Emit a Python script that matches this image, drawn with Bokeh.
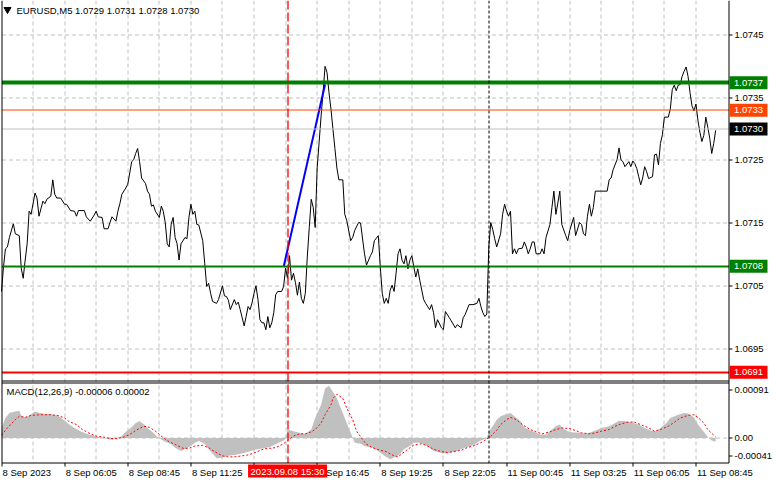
import math
from bokeh.plotting import figure
from bokeh.models import Range1d
from bokeh.embed import file_html
from bokeh.resources import INLINE
from bokeh.core.properties import value

# ---------------- data ----------------
bar_idx = [0, 1, 2, 3, 4, 6, 7, 9, 10, 11, 12, 13, 14, 15, 17, 18, 19, 21, 22, 23, 25, 26, 27, 28, 30,
           32, 33, 35, 37, 38, 39, 42, 43, 45, 47, 48, 49, 51, 52, 54, 55, 56, 58, 59, 60, 61, 63, 64,
           65, 66, 67, 68, 69, 70, 71, 73, 74, 75, 76, 77, 78, 80, 81, 82, 83, 84, 85, 86, 87, 88, 89,
           90, 91, 93, 94, 95, 96, 97, 98, 99, 100, 102, 103, 104, 105, 106, 107, 109, 110, 112, 113,
           114, 115, 116, 118, 119, 120, 121, 123, 124, 125, 126, 127, 128, 129, 130, 131, 132, 133,
           134, 135, 136, 137, 138, 139, 140, 142, 143, 144, 145, 146, 147, 148, 149, 150, 151, 152,
           153, 154, 155, 156, 157, 158, 159, 160, 161, 162, 163, 164, 165, 166, 167, 168, 169, 170,
           171, 173, 174, 175, 177, 178, 179, 181, 182, 184, 185, 187, 188, 189, 191, 192, 193, 194,
           195, 196, 197, 198, 199, 200, 201, 202, 203, 204, 205, 206, 207, 208, 209, 210, 211, 212,
           214, 215, 217, 218, 219, 220, 221, 223, 224, 225, 227, 228, 230, 231, 233, 234, 235, 237,
           239, 241, 242, 243, 244, 245, 246, 247, 248, 249, 250, 251, 253, 254, 255, 256, 257, 258,
           259, 260, 261, 262, 264, 265, 266, 267, 268, 269, 270, 271, 273, 274, 275, 276, 278, 279,
           280, 281, 282, 283, 284, 286, 287, 288, 290, 291, 293, 294, 295, 296, 297, 298, 299, 300,
           301, 304, 307, 308, 309, 310, 312, 313, 314, 315, 316, 318, 319, 320, 321, 322, 323, 324,
           325, 326, 327, 328, 330, 331, 332, 333, 334, 335, 336, 338, 339, 340, 341, 342, 343, 344,
           345, 346, 347, 348, 349, 350, 351, 352, 353, 354, 355, 356, 357, 358, 359, 360, 361, 362]
close = [1.07041, 1.07080, 1.07109, 1.07112, 1.07127, 1.07149, 1.07133, 1.07130, 1.07078, 1.07062,
         1.07091, 1.07117, 1.07169, 1.07164, 1.07198, 1.07190, 1.07161, 1.07185, 1.07181, 1.07188,
         1.07193, 1.07219, 1.07196, 1.07190, 1.07190, 1.07180, 1.07180, 1.07170, 1.07169, 1.07161,
         1.07170, 1.07170, 1.07160, 1.07153, 1.07163, 1.07169, 1.07160, 1.07159, 1.07141, 1.07141,
         1.07151, 1.07160, 1.07153, 1.07169, 1.07181, 1.07196, 1.07206, 1.07212, 1.07230, 1.07248,
         1.07251, 1.07261, 1.07269, 1.07248, 1.07222, 1.07213, 1.07201, 1.07196, 1.07177, 1.07179,
         1.07169, 1.07159, 1.07177, 1.07169, 1.07151, 1.07117, 1.07112, 1.07148, 1.07159, 1.07127,
         1.07117, 1.07091, 1.07117, 1.07127, 1.07125, 1.07159, 1.07180, 1.07164, 1.07169, 1.07148,
         1.07147, 1.07122, 1.07086, 1.07049, 1.07054, 1.07038, 1.07025, 1.07022, 1.07028, 1.07050,
         1.07034, 1.07033, 1.07027, 1.07012, 1.07028, 1.07020, 1.07024, 1.07012, 1.06986, 1.07001,
         1.07017, 1.07012, 1.07023, 1.07038, 1.07050, 1.07028, 1.06996, 1.06991, 1.06991, 1.06980,
         1.07001, 1.06983, 1.06991, 1.07007, 1.07036, 1.07041, 1.07041, 1.07049, 1.07078, 1.07062,
         1.07098, 1.07059, 1.07070, 1.07055, 1.07035, 1.07056, 1.07030, 1.07022, 1.07038, 1.07096,
         1.07143, 1.07188, 1.07175, 1.07143, 1.07238, 1.07279, 1.07321, 1.07358, 1.07400, 1.07390,
         1.07358, 1.07332, 1.07300, 1.07269, 1.07238, 1.07219, 1.07219, 1.07164, 1.07154, 1.07122,
         1.07127, 1.07138, 1.07151, 1.07150, 1.07101, 1.07083, 1.07098, 1.07104, 1.07122, 1.07130,
         1.07080, 1.07038, 1.07022, 1.07030, 1.07022, 1.07043, 1.07051, 1.07041, 1.07070, 1.07101,
         1.07109, 1.07091, 1.07085, 1.07098, 1.07077, 1.07091, 1.07098, 1.07080, 1.07064, 1.07077,
         1.07059, 1.07028, 1.07022, 1.07012, 1.07020, 1.07007, 1.06983, 1.06996, 1.06983, 1.06980,
         1.07009, 1.06999, 1.06994, 1.06983, 1.06988, 1.06983, 1.06999, 1.07004, 1.07020, 1.07020,
         1.07022, 1.07030, 1.07017, 1.07007, 1.07001, 1.07005, 1.07112, 1.07151, 1.07140, 1.07125,
         1.07112, 1.07133, 1.07164, 1.07180, 1.07169, 1.07161, 1.07169, 1.07101, 1.07109, 1.07101,
         1.07109, 1.07110, 1.07120, 1.07112, 1.07101, 1.07109, 1.07120, 1.07120, 1.07101, 1.07101,
         1.07109, 1.07101, 1.07127, 1.07148, 1.07175, 1.07201, 1.07164, 1.07182, 1.07201, 1.07148,
         1.07130, 1.07122, 1.07138, 1.07159, 1.07130, 1.07151, 1.07148, 1.07133, 1.07130, 1.07161,
         1.07180, 1.07161, 1.07175, 1.07201, 1.07201, 1.07201, 1.07219, 1.07222, 1.07235, 1.07251,
         1.07270, 1.07251, 1.07248, 1.07240, 1.07248, 1.07240, 1.07249, 1.07245, 1.07237, 1.07224,
         1.07211, 1.07222, 1.07240, 1.07232, 1.07221, 1.07224, 1.07259, 1.07260, 1.07243, 1.07277,
         1.07291, 1.07319, 1.07319, 1.07332, 1.07363, 1.07370, 1.07361, 1.07370, 1.07371, 1.07384,
         1.07392, 1.07399, 1.07384, 1.07358, 1.07337, 1.07329, 1.07340, 1.07314, 1.07295, 1.07280,
         1.07290, 1.07319, 1.07303, 1.07285, 1.07261, 1.07277, 1.07298]

hist_idx = [0, 2, 4, 7, 9, 10, 12, 14, 17, 19, 22, 25, 28, 30, 32, 34, 37, 40, 43, 47, 50, 53, 56, 58,
            61, 63, 66, 68, 70, 72, 74, 77, 79, 81, 83, 86, 88, 91, 93, 96, 98, 100, 103, 105, 108,
            109, 112, 115, 118, 122, 125, 129, 133, 136, 139, 143, 144, 145, 148, 151, 154, 157, 159,
            162, 164, 166, 168, 170, 172, 174, 176, 178, 179, 182, 184, 188, 191, 194, 197, 199, 202,
            204, 207, 209, 212, 214, 217, 219, 222, 224, 228, 231, 234, 238, 241, 243, 246, 247, 249,
            251, 253, 256, 258, 260, 263, 265, 268, 271, 273, 276, 278, 281, 283, 284, 287, 289, 293,
            296, 298, 301, 304, 308, 311, 313, 317, 320, 323, 326, 329, 332, 334, 337, 339, 343, 346,
            348, 351, 353, 356, 358, 360, 362]
hist_val = [0.000180, 0.000354, 0.000441, 0.000470, 0.000481, 0.000400, 0.000365, 0.000400, 0.000470,
            0.000447, 0.000423, 0.000423, 0.000400, 0.000365, 0.000307, 0.000249, 0.000180, 0.000122,
            0.000075, 0.000035, 0.000017, -0.000012, -0.000029, -0.000006, 0.000035, 0.000110,
            0.000191, 0.000267, 0.000296, 0.000249, 0.000180, 0.000093, 0.000017, -0.000023,
            -0.000064, -0.000110, -0.000168, -0.000226, -0.000197, -0.000139, -0.000081, -0.000052,
            -0.000099, -0.000197, -0.000313, -0.000354, -0.000342, -0.000313, -0.000296, -0.000273,
            -0.000240, -0.000200, -0.000180, -0.000157, -0.000110, -0.000041, -0.000006, 0.000151,
            0.000122, 0.000093, 0.000075, 0.000151, 0.000354, 0.000586, 0.000876, 0.000922, 0.000818,
            0.000702, 0.000528, 0.000354, 0.000180, 0.000012, -0.000081, -0.000099, -0.000139,
            -0.000168, -0.000226, -0.000313, -0.000371, -0.000342, -0.000284, -0.000197, -0.000139,
            -0.000081, -0.000081, -0.000110, -0.000168, -0.000226, -0.000255, -0.000273, -0.000255,
            -0.000226, -0.000180, -0.000139, -0.000081, -0.000041, -0.000006, 0.000122, 0.000209,
            0.000325, 0.000383, 0.000423, 0.000441, 0.000383, 0.000296, 0.000191, 0.000133, 0.000093,
            0.000064, 0.000064, 0.000122, 0.000209, 0.000238, 0.000191, 0.000122, 0.000104, 0.000093,
            0.000075, 0.000093, 0.000133, 0.000180, 0.000209, 0.000267, 0.000307, 0.000296, 0.000267,
            0.000238, 0.000180, 0.000133, 0.000122, 0.000180, 0.000267, 0.000354, 0.000412, 0.000441,
            0.000435, 0.000365, 0.000238, 0.000110, 0.000017, -0.000041, -0.000064]

sig_idx = [0, 3, 7, 9, 12, 15, 20, 25, 29, 32, 34, 38, 41, 45, 48, 52, 55, 58, 62, 65, 68, 72, 75, 78,
           82, 85, 88, 92, 95, 98, 102, 105, 108, 112, 115, 118, 122, 125, 129, 133, 136, 139, 143,
           145, 148, 151, 154, 157, 159, 162, 164, 167, 168, 170, 173, 175, 178, 180, 183, 185, 188,
           192, 195, 198, 201, 203, 206, 209, 213, 216, 219, 223, 226, 229, 233, 236, 239, 243, 245,
           248, 251, 253, 256, 258, 261, 264, 268, 271, 274, 278, 281, 284, 288, 291, 294, 298, 301,
           304, 308, 311, 314, 318, 321, 324, 328, 331, 334, 338, 341, 344, 348, 351, 353, 356, 358,
           361, 362]
sig_val = [0.000052, 0.000180, 0.000325, 0.000383, 0.000365, 0.000400, 0.000412, 0.000412, 0.000394,
           0.000354, 0.000296, 0.000238, 0.000151, 0.000075, 0.000035, 0.000017, -0.000006, -0.000012,
           0.000017, 0.000064, 0.000133, 0.000209, 0.000191, 0.000122, 0.000006, -0.000064, -0.000110,
           -0.000180, -0.000180, -0.000139, -0.000128, -0.000168, -0.000238, -0.000313, -0.000331,
           -0.000331, -0.000313, -0.000296, -0.000250, -0.000190, -0.000180, -0.000168, -0.000099,
           -0.000041, 0.000035, 0.000075, 0.000075, 0.000110, 0.000151, 0.000267, 0.000412, 0.000586,
           0.000702, 0.000771, 0.000702, 0.000528, 0.000325, 0.000122, -0.000023, -0.000110,
           -0.000168, -0.000215, -0.000238, -0.000296, -0.000331, -0.000273, -0.000197, -0.000122,
           -0.000099, -0.000139, -0.000197, -0.000238, -0.000255, -0.000238, -0.000215, -0.000168,
           -0.000139, -0.000081, -0.000041, 0.000035, 0.000140, 0.000238, 0.000325, 0.000365,
           0.000325, 0.000238, 0.000151, 0.000110, 0.000075, 0.000110, 0.000151, 0.000180, 0.000168,
           0.000133, 0.000093, 0.000075, 0.000093, 0.000122, 0.000151, 0.000209, 0.000249, 0.000284,
           0.000278, 0.000238, 0.000180, 0.000122, 0.000151, 0.000209, 0.000278, 0.000354, 0.000400,
           0.000412, 0.000365, 0.000267, 0.000151, 0.000052, 0.000020]

trend_idx = [143, 164]
trend_val = [1.07080, 1.07371]

level_vals = [1.07374, 1.07330, 1.07300, 1.07081, 1.06912]
level_text = ["1.0737", "1.0733", "1.0730", "1.0708", "1.0691"]
level_line_colors = ["#008000", "#FF4500", "#C0C0C0", "#008000", "#FF0000"]
level_box_colors = ["#008000", "#FF4500", "#000000", "#008000", "#FF0000"]
level_widths = [4, 1, 1, 2, 2]

price_ticks = [1.0695, 1.0705, 1.0715, 1.0725, 1.0735, 1.0745]
price_tick_labels = ["1.0695", "1.0705", "1.0715", "1.0725", "1.0735", "1.0745"]
macd_ticks = [0.00091, 0.0, -0.00041]
macd_tick_labels = ["0.00091", "0.00", "-0.00041"]

time_tick_idx = [0, 32, 64, 96, 128, 160, 192, 224, 256, 288, 320, 352]
time_tick_labels = ["8 Sep 2023", "8 Sep 06:05", "8 Sep 08:45", "8 Sep 11:25", "8 Sep 14:05",
                    "8 Sep 16:45", "8 Sep 19:25", "8 Sep 22:05", "11 Sep 00:45", "11 Sep 03:25",
                    "11 Sep 06:05", "11 Sep 08:45"]

vline_idx = 145
vline_label = "2023.09.08 15:30"
week_sep_idx = 247

title_text = "EURUSD,M5  1.0729 1.0731 1.0728 1.0730"
macd_title = "MACD(12,26,9) -0.00006 0.00002"

# ---------------- layout (pixels) ----------------
FONT = value("Liberation Sans")
FS = value("9.5px")
W, H = 772, 478
CX0, CHART_W = 1, 727            # chart area left edge / width in px
CX1 = CX0 + CHART_W
FRAME_H = 462                    # bottom of the MACD panel (px from top)
PRICE_PX, GAP = 380, 2
MACD_TOP = PRICE_PX + GAP
MACD_PX = FRAME_H - MACD_TOP
X_END = 368.5                    # bars visible in chart area
P_TOP, P_BOT = 1.07505, 1.06899
PPX = (P_TOP - P_BOT) / PRICE_PX
M_TOP, M_BOT = 0.00098, -0.00043
MPX = (M_TOP - M_BOT) / MACD_PX
BPX = X_END / CHART_W


def bx(px):
    return (px - CX0) * BPX


def py(px):
    return P_TOP - px * PPX


def my(px):
    return M_TOP - (px - MACD_TOP) * MPX


def snap_x(i, w=1):
    px = CX0 + i / BPX
    return bx(math.floor(px) + 0.5 if w % 2 else round(px))


def snap_y(v, w=1):
    px = (P_TOP - v) / PPX
    return py(math.floor(px) + 0.5 if w % 2 else round(px))


p = figure(width=W, height=H, output_backend="svg", toolbar_location=None,
           x_range=Range1d(bx(0), bx(W)), y_range=Range1d(py(H), py(0)),
           x_axis_location=None, y_axis_location=None,
           min_border_left=0, min_border_right=0, min_border_top=0, min_border_bottom=0,
           outline_line_color=None, background_fill_color="white", border_fill_color="white")
p.extra_y_ranges = {"macd": Range1d(my(H), my(0))}
p.xgrid.visible = False
p.ygrid.visible = False

GRID = dict(line_color="#C0C0C0", line_dash="4 3", line_width=1)
XL, XR = snap_x(0), snap_x(X_END)
Y_TOP, Y_BOT = py(0), py(FRAME_H + 0.5)

# grid lines
gx = [snap_x(i) for i in range(16, 353, 16)]
p.segment(x0=gx, y0=[Y_TOP] * len(gx), x1=gx, y1=[Y_BOT] * len(gx), **GRID)
gy = [snap_y(v) for v in price_ticks]
p.segment(x0=[XL] * len(gy), y0=gy, x1=[XR] * len(gy), y1=gy, **GRID)

# MACD panel
p.varea(x=hist_idx, y1=[0] * len(hist_idx), y2=hist_val, fill_color="#C0C0C0", y_range_name="macd")
zero_px = math.floor(MACD_TOP + M_TOP / MPX) + 0.5
p.segment(x0=[XL], y0=[my(zero_px)], x1=[XR], y1=[my(zero_px)], y_range_name="macd", **GRID)
p.line(sig_idx, sig_val, line_color="#FF0000", line_dash="2 2", line_width=1, y_range_name="macd")

# price line and trend line
p.line(bar_idx, close, line_color="black", line_width=1)
p.line(trend_idx, trend_val, line_color="#0000FF", line_width=2)

# horizontal levels
for v, c, w in zip(level_vals, level_line_colors, level_widths):
    yv = snap_y(v, w)
    p.segment(x0=[XL], y0=[yv], x1=[XR], y1=[yv], line_color=c, line_width=w)

# vertical lines
vx = snap_x(vline_idx)
p.segment(x0=[vx], y0=[Y_TOP], x1=[vx], y1=[Y_BOT], line_color="#FF0000", line_width=1.3,
          line_dash="9 3")
wx = snap_x(week_sep_idx)
p.segment(x0=[wx], y0=[Y_TOP], x1=[wx], y1=[Y_BOT], line_color="black", line_width=1,
          line_dash="3 2")

# borders
BLK = dict(line_color="black", line_width=1)
p.segment(x0=[XL, XR], y0=[Y_TOP, Y_TOP], x1=[XL, XR], y1=[Y_BOT, Y_BOT], **BLK)
sep = [py(PRICE_PX + 0.5), py(MACD_TOP + 0.5), Y_BOT]
p.segment(x0=[XL] * 3, y0=sep, x1=[XR] * 3, y1=sep, **BLK)

# right price scale: ticks and labels
macd_pos = []
for m in macd_ticks:
    px = MACD_TOP + (M_TOP - m) / MPX
    px = min(max(px, MACD_TOP + 7), FRAME_H - 7)
    macd_pos.append(py(math.floor(px) + 0.5))
rticks = gy + macd_pos
rlabels = price_tick_labels + macd_tick_labels
p.segment(x0=[XR] * len(rticks), y0=rticks, x1=[bx(CX1 + 4)] * len(rticks), y1=rticks, **BLK)
p.text(x=[bx(CX1 + 6)] * len(rticks), y=rticks, text=rlabels, text_font=FONT, text_font_size=FS,
       text_color="black", text_align="left", text_baseline="middle")

# price value boxes
box_x = bx(CX1 + 20)
p.rect(x=[box_x] * len(level_vals), y=level_vals, width=38, height=13, width_units="screen",
       height_units="screen", fill_color=level_box_colors, line_color=None)
p.text(x=[box_x] * len(level_vals), y=level_vals, text=level_text, text_font=FONT,
       text_font_size=FS, text_color="white", text_align="center", text_baseline="middle")

# time scale: ticks and labels
tx = [snap_x(i) for i in time_tick_idx]
p.segment(x0=tx, y0=[Y_BOT] * len(tx), x1=tx, y1=[py(FRAME_H + 4)] * len(tx), **BLK)
p.text(x=time_tick_idx, y=[py(FRAME_H + 9.5)] * len(time_tick_idx), text=time_tick_labels,
       x_offset=1, text_font=FONT, text_font_size=FS, text_color="black", text_align="left",
       text_baseline="middle")
p.rect(x=[vline_idx], y=[py(FRAME_H + 8.5)], width=79, height=13, width_units="screen",
       height_units="screen", fill_color="#FF0000", line_color=None)
p.text(x=[vline_idx], y=[py(FRAME_H + 8.5)], text=[vline_label], text_font=FONT,
       text_font_size=FS, text_color="white", text_align="center", text_baseline="middle")

# titles
p.scatter(x=[bx(CX0 + 6)], y=[py(9)], marker="inverted_triangle", size=7, fill_color="black",
          line_color="black")
p.text(x=[bx(CX0 + 15)], y=[py(10)], text=[title_text], text_font=FONT, text_font_size=FS,
       text_color="black", text_align="left", text_baseline="middle")
p.text(x=[bx(CX0 + 5)], y=[py(MACD_TOP + 9)], text=[macd_title], text_font=FONT,
       text_font_size=FS, text_color="black", text_align="left", text_baseline="middle")

open("out.html", "w").write(file_html(p, INLINE))
